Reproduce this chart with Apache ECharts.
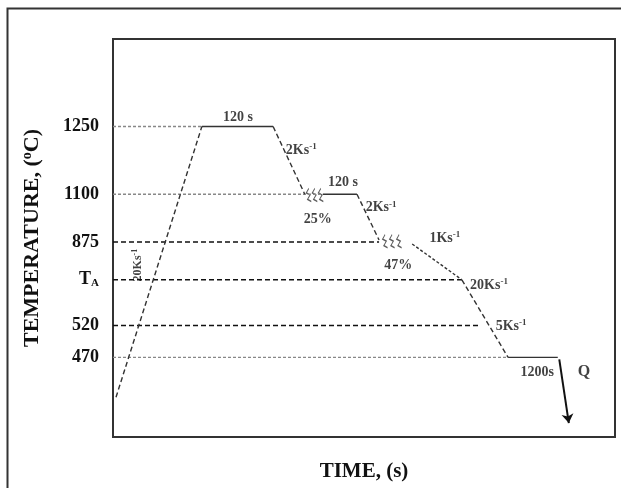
<!DOCTYPE html>
<html>
<head>
<meta charset="utf-8">
<script src="https://cdn.jsdelivr.net/npm/echarts@6/dist/echarts.min.js"></script>
<style>
  html, body { margin: 0; padding: 0; background: #fff; }
  #main-canvas { width: 621px; height: 488px; }
</style>
</head>
<body>
<div id="main-canvas"></div>
<script>
// schematic units: x = time (0..100), y = temperature level (0..100)
var levelNames = ['1250', '1100', '875', 'TA', '520', '470'];
var levelY = [78, 61, 49, 39.5, 28, 20];
var guideEnd = [17.7, 41.8, 53, 69.5, 72.9, 78.7];
var guideDark = [false, false, true, true, true, false];

// thermal path, segment i joins point i and i+1
var pathX = [0.6, 17.7, 31.9, 38.2, 41.8, 48.6, 53.0, 59.6, 69.5, 78.7, 88.6];
var pathY = [10, 78, 78, 61, 61, 61, 49.5, 48.5, 39.5, 20, 20];
var segType = ['dashed', 'solid', 'dashed', 'none', 'solid', 'dashed', 'none', 'dotted', 'dashed', 'solid'];

var quenchX = [88.9, 90.8];
var quenchY = [19.5, 3.5];

// deformation marks
var defX = [39.0, 40.2, 41.4, 54.2, 55.6, 57.0];
var defY = [60.8, 60.8, 60.8, 49.2, 49.2, 49.2];

var noteText = ['120 s', '2Ks{s|-1}', '120 s', '25%', '2Ks{s|-1}', '47%', '1Ks{s|-1}', '20Ks{s|-1}', '5Ks{s|-1}', '1200s'];
var noteX = [24.9, 37.5, 45.8, 40.8, 53.4, 56.8, 66.1, 74.9, 79.3, 84.5];
var noteY = [80.4, 72.0, 64.0, 54.8, 57.6, 43.2, 50.0, 38.2, 27.9, 16.3];

var heatNote = '20Ks{s|-1}';
var heatNoteX = 5.0;
var heatNoteY = 43.2;

var quenchNote = 'Q';
var quenchNoteX = 93.8;
var quenchNoteY = 16.3;

var myChart = echarts.init(document.getElementById('main-canvas'));
var FONT = '"Liberation Serif", "DejaVu Serif", serif';
var INK = '#111';

var dashFor = {
    dashed: [5, 3],
    dotted: [3, 2],
    solid: 'solid'
};

function richSup(size)
{
    return {
        s: { fontSize: Math.round(size * 0.65), fontWeight: 'bold', fontFamily: FONT, color: INK, verticalAlign: 'top', padding: [0, 0, Math.round(size * 0.5), 0] },
        a: { fontSize: Math.round(size * 0.6), fontWeight: 'bold', fontFamily: FONT, color: INK, padding: [Math.round(size * 0.4), 0, 0, 0] }
    };
}

function noteSeries(data, size, rotate)
{
    return {
        type: 'scatter',
        silent: true,
        symbolSize: 0,
        data: data,
        label: {
            show: true,
            position: 'inside',
            rotate: rotate,
            formatter: function (p) { return p.name; },
            fontFamily: FONT,
            fontWeight: 'bold',
            fontSize: size,
            color: INK,
            rich: richSup(size)
        }
    };
}

var series = [];

// horizontal guide lines
for (var i = 0; i < levelY.length; i++)
{
    series.push({
        type: 'line',
        silent: true,
        symbol: 'none',
        data: [[0, levelY[i]], [guideEnd[i], levelY[i]]],
        lineStyle: guideDark[i]
            ? { color: '#111', width: 1.4, type: [5, 3] }
            : { color: '#888', width: 1.4, type: [3, 2] }
    });
}

// thermal path segments
for (var j = 0; j < segType.length; j++)
{
    if (segType[j] == 'none') continue;
    series.push({
        type: 'line',
        silent: true,
        symbol: 'none',
        data: [[pathX[j], pathY[j]], [pathX[j + 1], pathY[j + 1]]],
        lineStyle: { color: '#333', width: 1.4, type: dashFor[segType[j]] }
    });
}

// quench arrow
series.push({
    type: 'lines',
    coordinateSystem: 'cartesian2d',
    silent: true,
    symbol: ['none', 'arrow'],
    symbolSize: 9,
    data: [{ coords: [[quenchX[0], quenchY[0]], [quenchX[1], quenchY[1]]] }],
    lineStyle: { color: '#111', width: 2, opacity: 1 }
});

// deformation zigzags
var defData = [];
for (var k = 0; k < defX.length; k++) defData.push([defX[k], defY[k]]);
series.push({
    type: 'scatter',
    silent: true,
    symbol: 'path://M3,0 L1,4 L4,6 L2,10 L5,12',
    symbolSize: [5, 13],
    data: defData,
    itemStyle: { color: 'none', borderColor: '#333', borderWidth: 1 }
});

// annotations
var noteData = [];
for (var n = 0; n < noteText.length; n++)
{
    noteData.push({ value: [noteX[n], noteY[n]], name: noteText[n] });
}
series.push(noteSeries(noteData, 14, 0));
series.push(noteSeries([{ value: [heatNoteX, heatNoteY], name: heatNote }], 12, 90));
series.push(noteSeries([{ value: [quenchNoteX, quenchNoteY], name: quenchNote }], 16, 0));

var option = {
    animation: false,
    backgroundColor: '#fff',
    grid: {
        left: 113, top: 39, right: 6, bottom: 51,
        outerBoundsMode: 'none',
        containLabel: false,
        show: true,
        borderColor: '#333',
        borderWidth: 2
    },
    xAxis: {
        type: 'value',
        min: 0, max: 100,
        axisLine: { show: false },
        axisTick: { show: false },
        axisLabel: { show: false },
        splitLine: { show: false },
        name: 'TIME, (s)',
        nameLocation: 'middle',
        nameGap: 24,
        nameTextStyle: { fontFamily: FONT, fontWeight: 'bold', fontSize: 21, color: INK }
    },
    yAxis: {
        type: 'value',
        min: 0, max: 100,
        axisLine: { show: false },
        axisTick: { show: false },
        splitLine: { show: false },
        axisLabel: {
            customValues: levelY,
            margin: 14,
            fontFamily: FONT,
            fontWeight: 'bold',
            fontSize: 18,
            color: INK,
            rich: richSup(18),
            formatter: function (v) {
                var idx = levelY.indexOf(v);
                var t = levelNames[idx];
                if (t == 'TA') return 'T{a|A}';
                return t;
            }
        },
        name: 'TEMPERATURE, ({s|o}C)',
        nameLocation: 'middle',
        nameGap: 68,
        nameTextStyle: { fontFamily: FONT, fontWeight: 'bold', fontSize: 22, color: INK, rich: richSup(22) }
    },
    graphic: [{
        type: 'rect',
        silent: true,
        shape: { x: 7.5, y: 8.5, width: 700, height: 600 },
        style: { fill: 'none', stroke: '#333', lineWidth: 2 }
    }],
    series: series
};

myChart.setOption(option);
</script>
</body>
</html>
